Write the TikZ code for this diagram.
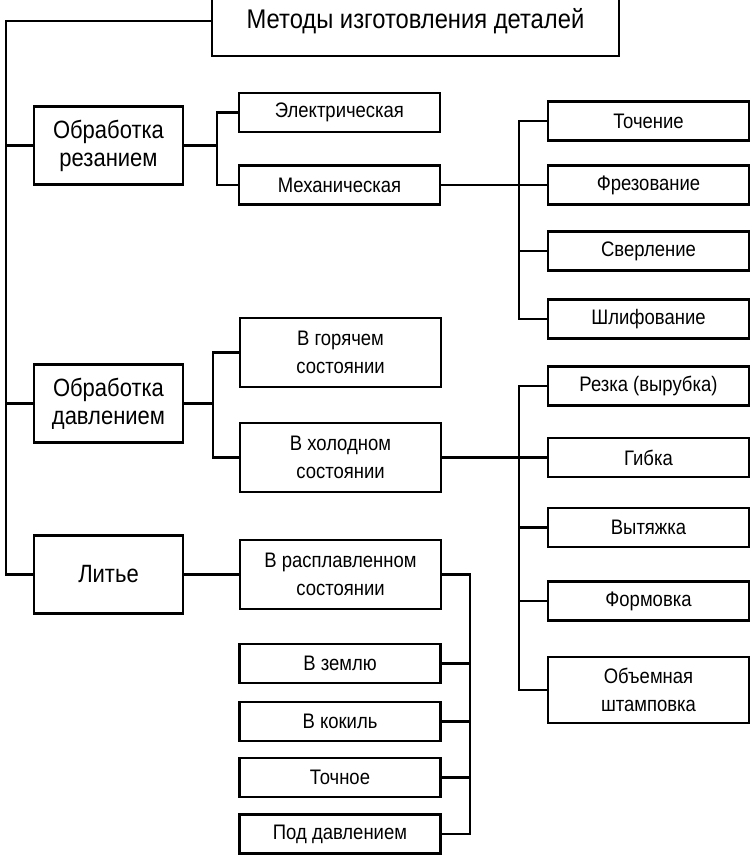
\documentclass[tikz,border=0pt]{standalone}
\usepackage{fontspec}
\setmainfont{Liberation Sans}[FakeStretch=0.88]

\begin{document}
\begin{tikzpicture}[
  x=1pt,y=-1pt,
  every node/.style={font=\fontsize{21}{28}\selectfont},
  box/.style={draw,line width=2.1pt,minimum width=201pt,minimum height=39pt,
    inner sep=0pt,align=center},
  tall/.style={box,minimum height=69pt},
  method/.style={box,minimum width=149pt,minimum height=78pt,
    font=\fontsize{25}{28}\selectfont},
  title/.style={box,minimum width=407pt,minimum height=70pt,
    font=\fontsize{27}{30}\selectfont},
  link/.style={line width=2.1pt},
  fork/.style={to path={-- ++(#1,0) |- (\tikztotarget)}}
]
  \useasboundingbox (0,0) rectangle (755,859);
  \node[title] (top) at (415.5,21) {Методы изготовления деталей};
  \node[method] (cut) at (108.5,145.5) {Обработка\\резанием};
  \node[method] (press) at (108.5,403.5) {Обработка\\давлением};
  \node[method] (cast) at (108.5,574.5) {Литье};
  \node[box] (elec) at (339.5,112.5) {Электрическая};
  \node[box] (mech) at (339.5,185) {Механическая};
  \node[tall] (hot) at (340.5,352.5) {В горячем\\состоянии};
  \node[tall] (cold) at (340.5,457.5) {В холодном\\состоянии};
  \node[tall] (melt) at (340.5,574.5) {В расплавленном\\состоянии};
  \foreach \n/\y/\t in {sand/663.5/В землю,chill/721.5/В кокиль,
    prec/777.5/Точное,die/834/Под давлением}
    {\node[box] (\n) at (340,\y) {\t};}
  \foreach \n/\y/\t in {turn/121/Точение,mill/185/Фрезование,drill/251/Сверление,
    grind/319/Шлифование,shear/386/Резка (вырубка),bend/457.5/Гибка,
    deep/527.5/Вытяжка,form/601/Формовка}
    {\node[box] (\n) at (648.5,\y) {\t};}
  \node[box,minimum height=66pt] (stamp) at (648.5,690) {Объемная\\штамповка};

  \coordinate (trunk) at (6,0);
  \draw[link] (top.west) -| (trunk |- cast.west) -- (cast.west);
  \foreach \n in {cut,press}
    {\draw[link] (trunk |- \n.west) -- (\n.west);}
  \foreach \x/\y in {elec/cut,mech/cut}
    {\draw[link] (\y.east) to[fork=33] (\x.west);}
  \foreach \x/\y in {hot/press,cold/press}
    {\draw[link] (\y.east) to[fork=29] (\x.west);}
  \draw[link] (cast.east) -- (melt.west);
  \foreach \n in {turn,mill,drill,grind}
    {\draw[link] (mech.east) to[fork=78] (\n.west);}
  \foreach \n in {shear,bend,deep,form,stamp}
    {\draw[link] (cold.east) to[fork=77] (\n.west);}
  \foreach \n in {sand,chill,prec,die}
    {\draw[link] (melt.east) to[fork=28] (\n.east);}
\end{tikzpicture}
\end{document}
